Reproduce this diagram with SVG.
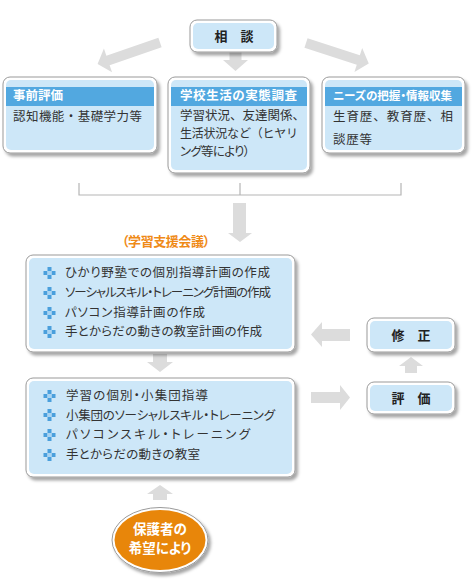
<svg xmlns="http://www.w3.org/2000/svg" width="475" height="583" viewBox="0 0 475 583">
<style>
text{font-family:"Noto Sans CJK JP","Noto Sans",sans-serif;}
.p{font-feature-settings:"palt" 1;}
.outer{fill:#ffffff;stroke:#9a9a9a;stroke-width:1;}
.inner{fill:#cde7f8;}
.band{fill:#52a8e0;}
.hdr{fill:#ffffff;font-size:12.5px;font-weight:bold;}
.body{fill:#333333;font-size:12.5px;}
.item{fill:#333333;font-size:12.5px;}
.lbl{fill:#222222;font-size:13px;font-weight:bold;}
.arrow{fill:#dcdcdc;}
.bracket{fill:none;stroke:#b5b5b5;stroke-width:1.2;}
.orange{fill:#ef8a17;font-size:13px;font-weight:bold;}
.white{fill:#ffffff;font-size:13.5px;font-weight:bold;}
</style>
<defs>
<filter id="sh" x="-10%" y="-10%" width="130%" height="140%">
<feDropShadow dx="2.5" dy="3" stdDeviation="1.5" flood-color="#000000" flood-opacity="0.35"/>
</filter>
<g id="bul">
<rect x="-2" y="-6" width="4" height="4" fill="#4a9fdc"/>
<rect x="-2" y="2" width="4" height="4" fill="#4a9fdc"/>
<rect x="-6" y="-2" width="4" height="4" fill="#4a9fdc"/>
<rect x="2" y="-2" width="4" height="4" fill="#4a9fdc"/>
<rect x="-2" y="-2" width="4" height="4" fill="#a9d4f2"/>
</g>
</defs>

<g id="connectors">
<polygon class="arrow" points="0,-5 55,-5 55,-12.5 66,0 55,12.5 55,5 0,5" transform="translate(160,42.5) rotate(161)"/>
<polygon class="arrow" points="0,-5 55,-5 55,-12.5 66,0 55,12.5 55,5 0,5" transform="translate(306,43) rotate(18)"/>
<polygon class="arrow" points="229.5,52 241.5,52 241.5,60 248,60 235.5,71 223,60 229.5,60"/>
<path class="bracket" d="M79,183 V195 H401 V183 M240,183 V195"/>
<polygon class="arrow" points="233,203 246,203 246,233 252,233 240,242 228,233 233,233"/>
<polygon class="arrow" points="153,354 167,354 167,362 173,362 160,372 147,362 153,362"/>
<polygon class="arrow" points="153,500 167,500 167,494 173,494 160,485 147,494 153,494"/>
<polygon class="arrow" points="350,329 322,329 322,322 311,334.5 322,347 322,341 350,341"/>
<polygon class="arrow" points="311,392 340,392 340,385 350,397.5 340,410 340,403 311,403"/>
<polygon class="arrow" points="405,373 417,373 417,366 423,366 411,357 399,366 405,366"/>
</g>

<g id="soudan">
<rect class="outer" x="190" y="20" width="87" height="32" rx="7" filter="url(#sh)"/>
<rect class="inner" x="193" y="23" width="81" height="26" rx="5"/>
<text class="lbl" x="234" y="41" text-anchor="middle">相　談</text>
</g>

<g id="jizen">
<rect class="outer" x="3" y="77" width="154" height="76" rx="7" filter="url(#sh)"/>
<rect class="inner" x="6" y="80" width="148" height="70" rx="5"/>
<rect class="band" x="6" y="87" width="148" height="19"/>
<text class="hdr p" x="13" y="100" textLength="50">事前評価</text>
<text class="body" x="13" y="121" textLength="129">認知機能・基礎学力等</text>
</g>

<g id="jittai">
<rect class="outer" x="168" y="77" width="142" height="96" rx="7" filter="url(#sh)"/>
<rect class="inner" x="171" y="80" width="136" height="90" rx="5"/>
<rect class="band" x="171" y="87" width="136" height="19"/>
<text class="hdr p" x="180" y="100" textLength="117">学校生活の実態調査</text>
<text class="body" x="180" y="120" textLength="125">学習状況、友達関係、</text>
<text class="body" x="180" y="138" style="font-size:12px" textLength="118">生活状況など（ヒヤリ</text>
<text class="body p" x="180" y="156" textLength="70">ング等により）</text>
</g>

<g id="needs">
<rect class="outer" x="322" y="77" width="143" height="76" rx="7" filter="url(#sh)"/>
<rect class="inner" x="325" y="80" width="137" height="70" rx="5"/>
<rect class="band" x="325" y="87" width="137" height="19"/>
<text class="hdr p" x="333" y="100" style="font-size:11.5px" textLength="119">ニーズの把握・情報収集</text>
<text class="body" x="333" y="121" textLength="120">生育歴、教育歴、相</text>
<text class="body" x="333" y="144" textLength="39">談歴等</text>
</g>

<text id="kaigi" class="orange p" x="122" y="246" textLength="88">（学習支援会議）</text>

<g id="plan">
<rect class="outer" x="26" y="255" width="269" height="97" rx="7" filter="url(#sh)"/>
<rect class="inner" x="29" y="258" width="263" height="91" rx="5"/>
<use href="#bul" x="49.5" y="273"/>
<use href="#bul" x="49.5" y="293"/>
<use href="#bul" x="49.5" y="313"/>
<use href="#bul" x="49.5" y="332"/>
<text class="item p" x="65" y="277" textLength="205">ひかり野塾での個別指導計画の作成</text>
<text class="item p" x="65" y="297" textLength="206">ソーシャルスキル・トレーニング計画の作成</text>
<text class="item p" x="65" y="317" textLength="140">パソコン指導計画の作成</text>
<text class="item p" x="65" y="336" textLength="197">手とからだの動きの教室計画の作成</text>
</g>

<g id="jisshi">
<rect class="outer" x="26" y="378" width="269" height="99" rx="7" filter="url(#sh)"/>
<rect class="inner" x="29" y="381" width="263" height="93" rx="5"/>
<use href="#bul" x="49.5" y="396"/>
<use href="#bul" x="49.5" y="415"/>
<use href="#bul" x="49.5" y="435"/>
<use href="#bul" x="49.5" y="455"/>
<text class="item p" x="66" y="400" textLength="142">学習の個別・小集団指導</text>
<text class="item p" x="66" y="419.5" textLength="209">小集団のソーシャルスキル・トレーニング</text>
<text class="item p" x="66" y="439" textLength="184">パソコンスキル・トレーニング</text>
<text class="item p" x="66" y="459" textLength="134">手とからだの動きの教室</text>
</g>

<g id="shusei">
<rect class="outer" x="367" y="318" width="88" height="34" rx="7" filter="url(#sh)"/>
<rect class="inner" x="370" y="321" width="82" height="28" rx="5"/>
<text class="lbl" x="411" y="339.5" text-anchor="middle">修　正</text>
</g>

<g id="hyoka">
<rect class="outer" x="367" y="382" width="88" height="32" rx="7" filter="url(#sh)"/>
<rect class="inner" x="370" y="385" width="82" height="26" rx="5"/>
<text class="lbl" x="411" y="403" text-anchor="middle">評　価</text>
</g>

<g id="hogosha">
<ellipse cx="160" cy="540" rx="48" ry="32.5" fill="#ffffff" stroke="#9a9a9a" stroke-width="1" filter="url(#sh)"/>
<ellipse cx="160" cy="540" rx="45.5" ry="30" fill="#e8860a"/>
<text class="white p" x="160" y="534" text-anchor="middle">保護者の</text>
<text class="white p" x="160" y="553" text-anchor="middle">希望により</text>
</g>
</svg>
